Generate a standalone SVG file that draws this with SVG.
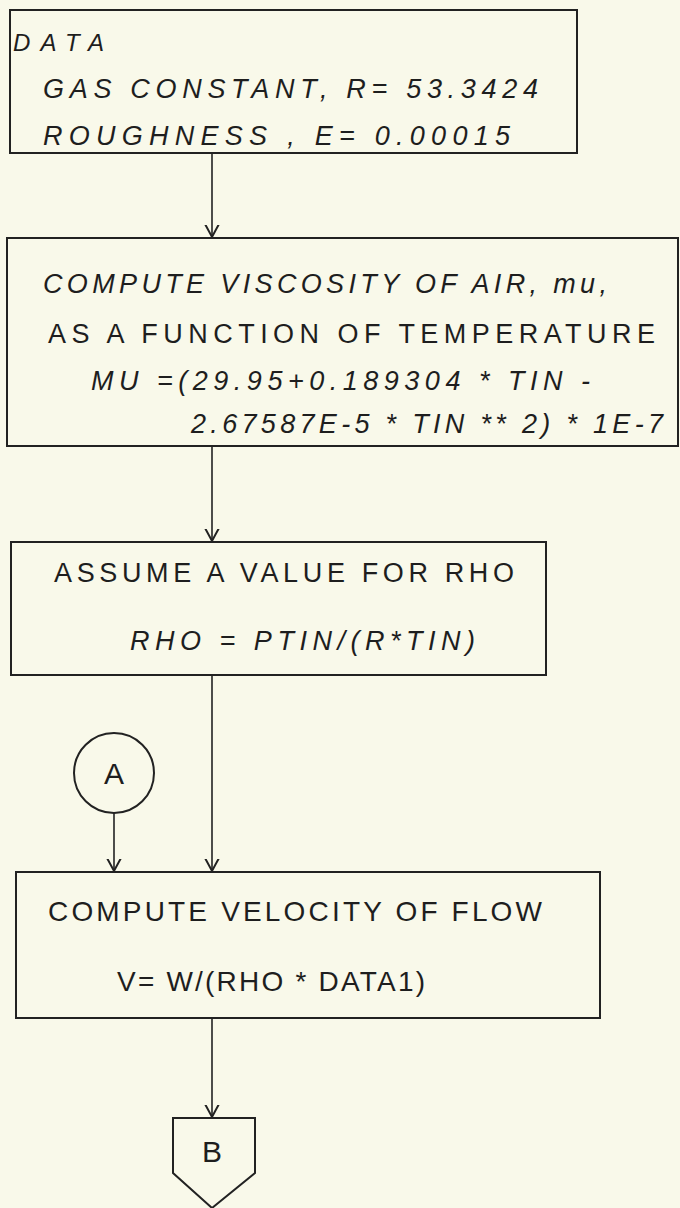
<svg xmlns="http://www.w3.org/2000/svg" width="680" height="1208" viewBox="0 0 680 1208">
<style>
.bg{fill:#f9f9ea}
.box{fill:none;stroke:#222;stroke-width:2}
.ln{fill:none;stroke:#222;stroke-width:1.6}
.t{font-family:"Liberation Sans",Arial,sans-serif;font-size:27px;fill:#1e1e1e}
.i{font-style:italic}
.big{font-size:30px}
.sm{font-size:24px}
.lg{font-size:28px}
</style>
<defs>
<marker id="ah" markerWidth="24" markerHeight="24" viewBox="-12 -12 24 24" refX="0" refY="0" orient="auto" markerUnits="userSpaceOnUse">
<path d="M-13,-7 L0,0 L-13,7" fill="none" stroke="#222" stroke-width="2"/>
</marker>
</defs>
<rect class="bg" x="0" y="0" width="680" height="1208"/>
<g id="connectors">
<line class="ln" x1="212" y1="153" x2="212" y2="237" marker-end="url(#ah)"/>
<line class="ln" x1="212" y1="446" x2="212" y2="541" marker-end="url(#ah)"/>
<line class="ln" x1="212" y1="675" x2="212" y2="871" marker-end="url(#ah)"/>
<line class="ln" x1="114" y1="813" x2="114" y2="871" marker-end="url(#ah)"/>
<line class="ln" x1="212" y1="1018" x2="212" y2="1117" marker-end="url(#ah)"/>
</g>
<g id="data">
<rect class="box" x="10" y="10" width="567" height="143"/>
<text class="t i sm" x="13" y="51" textLength="91" lengthAdjust="spacing">DATA</text>
<text class="t i" x="43" y="98" textLength="495" lengthAdjust="spacing">GAS  CONSTANT, R= 53.3424</text>
<text class="t i" x="43" y="145" textLength="467" lengthAdjust="spacing">ROUGHNESS ,  E= 0.00015</text>
</g>
<g id="viscosity">
<rect class="box" x="7" y="238" width="671" height="208"/>
<text class="t i" x="43" y="293" textLength="564" lengthAdjust="spacing">COMPUTE VISCOSITY OF AIR, mu,</text>
<text class="t" x="48" y="343" textLength="607" lengthAdjust="spacing">AS A  FUNCTION  OF TEMPERATURE</text>
<text class="t i" x="91" y="390" textLength="499" lengthAdjust="spacing">MU =(29.95+0.189304 * TIN -</text>
<text class="t i" x="191" y="433" textLength="472" lengthAdjust="spacing">2.67587E-5 * TIN ** 2) * 1E-7</text>
</g>
<g id="assume">
<rect class="box" x="11" y="542" width="535" height="133"/>
<text class="t" x="54" y="582" textLength="460" lengthAdjust="spacing">ASSUME  A  VALUE  FOR  RHO</text>
<text class="t i" x="130" y="650" textLength="345" lengthAdjust="spacing">RHO = PTIN/(R*TIN)</text>
</g>
<g id="connector-a">
<circle class="box" cx="114" cy="773" r="40"/>
<text class="t big" x="114" y="784" text-anchor="middle">A</text>
</g>
<g id="velocity">
<rect class="box" x="16" y="872" width="584" height="146"/>
<text class="t lg" x="48" y="921" textLength="494" lengthAdjust="spacing">COMPUTE  VELOCITY  OF  FLOW</text>
<text class="t lg" x="117" y="991" textLength="308" lengthAdjust="spacing">V= W/(RHO * DATA1)</text>
</g>
<g id="connector-b">
<path class="box" d="M173,1118 L255,1118 L255,1173 L212,1208 L173,1173 Z"/>
<text class="t big" x="212" y="1162" text-anchor="middle">B</text>
</g>
</svg>
